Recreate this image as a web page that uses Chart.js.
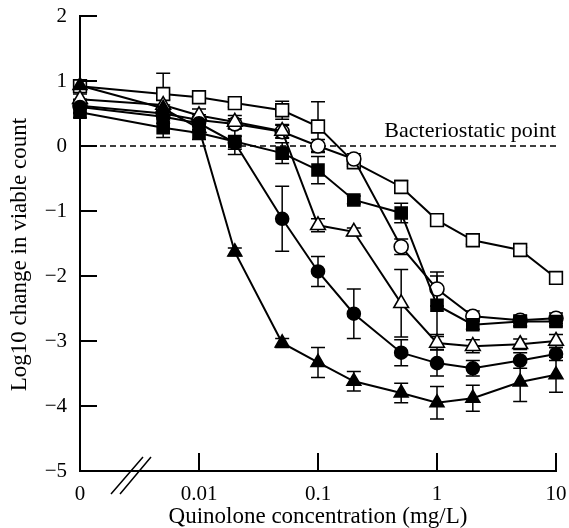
<!DOCTYPE html>
<html>
<head>
<meta charset="utf-8">
<script src="https://cdn.jsdelivr.net/npm/chart.js@4.4.0/dist/chart.umd.min.js"></script>
<style>
  html, body { margin: 0; padding: 0; background: #fff; }
  canvas { display: block; }
</style>
</head>
<body>
<canvas id="killChart" width="569" height="528"></canvas>
<script>
// quinolone concentrations (mg/L); 0 is drawn at the left end of the log axis
const concentrations = [0, 0.005, 0.01, 0.02, 0.05, 0.1, 0.2, 0.5, 1, 2, 5, 10];

// log10 change in viable count, with error bar half-lengths
const openSquare     = [0.92, 0.80, 0.75, 0.66, 0.55, 0.30, -0.25, -0.63, -1.14, -1.45, -1.60, -2.03];
const openSquareErr  = [0.05, 0.32, 0.05, 0.06, 0.14, 0.38, 0.06, 0.10, 0.07, 0.06, 0.04, 0.04];

const openCircle     = [0.62, 0.50, 0.40, 0.34, 0.22, 0.00, -0.20, -1.55, -2.20, -2.62, -2.68, -2.65];
const openCircleErr  = [0.10, 0.10, 0.08, 0.08, 0.10, 0.10, 0.08, 0.12, 0.26, 0.08, 0.08, 0.08];

const filledSquare    = [0.52, 0.28, 0.20, 0.07, -0.11, -0.37, -0.83, -1.03, -2.45, -2.75, -2.70, -2.70];
const filledSquareErr = [0.08, 0.15, 0.10, 0.20, 0.16, 0.21, 0.06, 0.15, 0.45, 0.07, 0.08, 0.07];

const openTriangle    = [0.72, 0.63, 0.47, 0.37, 0.23, -1.22, -1.32, -2.42, -3.03, -3.08, -3.05, -3.00];
const openTriangleErr = [0.08, 0.08, 0.10, 0.10, 0.10, 0.10, 0.06, 0.52, 0.10, 0.10, 0.08, 0.10];

const filledCircle    = [0.60, 0.45, 0.35, 0.05, -1.12, -1.93, -2.58, -3.18, -3.34, -3.42, -3.30, -3.20];
const filledCircleErr = [0.10, 0.10, 0.10, 0.10, 0.50, 0.23, 0.38, 0.20, 0.20, 0.12, 0.12, 0.10];

const filledTriangle    = [0.93, 0.58, 0.27, -1.63, -3.03, -3.33, -3.62, -3.80, -3.95, -3.88, -3.63, -3.52];
const filledTriangleErr = [0.05, 0.05, 0.06, 0.06, 0.07, 0.23, 0.15, 0.15, 0.25, 0.20, 0.30, 0.27];

const xTickValues = [0.001, 0.01, 0.1, 1, 10];
const xTickLabels = ['0', '0.01', '0.1', '1', '10'];
const yTickValues = [-5, -4, -3, -2, -1, 0, 1, 2];
const zeroAt = 0.001;   // where concentration 0 sits on the log axis
const staticLabel = 'Bacteriostatic point';
const yTitle = 'Log10 change in viable count';

const serif = "'Liberation Serif', 'Times New Roman', serif";

function points(values) {
    return values.map((v, i) => ({ x: concentrations[i] === 0 ? zeroAt : concentrations[i], y: v }));
}

function series(values, errors, style, filled, radius) {
    return {
        data: points(values),
        errors: errors,
        borderColor: '#000',
        borderWidth: 2,
        pointStyle: style,
        pointRadius: radius,
        pointBackgroundColor: filled ? '#000' : '#fff',
        pointBorderColor: '#000',
        pointBorderWidth: 1.6,
        tension: 0,
        fill: false,
        clip: false
    };
}

const extras = {
    id: 'extras',
    beforeDatasetsDraw(chart) {
        const { ctx, chartArea: a, scales: { x, y } } = chart;
        ctx.save();
        ctx.strokeStyle = '#000';

        // bacteriostatic line
        const y0 = y.getPixelForValue(0);
        ctx.lineWidth = 1.5;
        ctx.setLineDash([6, 4]);
        ctx.beginPath();
        ctx.moveTo(a.left, y0);
        ctx.lineTo(a.right, y0);
        ctx.stroke();
        ctx.setLineDash([]);

        // error bars
        ctx.lineWidth = 1.5;
        chart.data.datasets.forEach(ds => {
            ds.data.forEach((p, j) => {
                const e = ds.errors[j];
                const px = x.getPixelForValue(p.x);
                const top = y.getPixelForValue(p.y + e);
                const bot = y.getPixelForValue(p.y - e);
                ctx.beginPath();
                ctx.moveTo(px, top); ctx.lineTo(px, bot);
                ctx.moveTo(px - 7, top); ctx.lineTo(px + 7, top);
                ctx.moveTo(px - 7, bot); ctx.lineTo(px + 7, bot);
                ctx.stroke();
            });
        });
        ctx.restore();
    },
    afterDraw(chart) {
        const { ctx, chartArea: a, scales: { x, y } } = chart;
        ctx.save();
        ctx.strokeStyle = '#000';
        ctx.lineWidth = 2;

        // inward ticks
        ctx.beginPath();
        yTickValues.forEach(v => {
            const py = y.getPixelForValue(v);
            ctx.moveTo(a.left, py);
            ctx.lineTo(a.left + 17, py);
        });
        xTickValues.slice(1).forEach(v => {
            const px = x.getPixelForValue(v);
            ctx.moveTo(px, a.bottom);
            ctx.lineTo(px, a.bottom - 18);
        });
        ctx.stroke();

        // axis break
        ctx.lineWidth = 1.5;
        ctx.beginPath();
        ctx.moveTo(a.left + 31, a.bottom + 23); ctx.lineTo(a.left + 63, a.bottom - 14);
        ctx.moveTo(a.left + 40, a.bottom + 23); ctx.lineTo(a.left + 71, a.bottom - 14);
        ctx.stroke();

        ctx.fillStyle = '#000';
        ctx.font = '22px ' + serif;

        // label for the dashed line
        ctx.textAlign = 'right';
        ctx.textBaseline = 'alphabetic';
        ctx.fillText(staticLabel, a.right, y.getPixelForValue(0) - 9);

        // y axis title
        ctx.font = '23px ' + serif;
        ctx.textAlign = 'center';
        ctx.textBaseline = 'middle';
        ctx.translate(20, (a.top + a.bottom) / 2 + 11);
        ctx.rotate(-Math.PI / 2);
        ctx.fillText(yTitle, 0, 0);
        ctx.restore();
    }
};

new Chart(document.getElementById('killChart'), {
    type: 'line',
    data: {
        datasets: [
            series(filledTriangle, filledTriangleErr, 'triangle', true, 8),
            series(filledCircle, filledCircleErr, 'circle', true, 6.5),
            series(openTriangle, openTriangleErr, 'triangle', false, 8.5),
            series(filledSquare, filledSquareErr, 'rect', true, 8.5),
            series(openCircle, openCircleErr, 'circle', false, 7),
            series(openSquare, openSquareErr, 'rect', false, 9)
        ]
    },
    options: {
        responsive: false,
        animation: false,
        layout: { padding: { top: 16, right: 13, left: 0, bottom: 0 } },
        plugins: { legend: { display: false }, tooltip: { enabled: false } },
        scales: {
            x: {
                type: 'logarithmic',
                min: 0.001,
                max: 10,
                afterFit: s => { s.height = 57; s.paddingLeft = 0; s.paddingRight = 0; },
                afterBuildTicks: s => { s.ticks = xTickValues.map(v => ({ value: v })); },
                grid: { display: false, drawTicks: false },
                border: { display: true, color: '#000', width: 2 },
                ticks: {
                    autoSkip: false,
                    maxRotation: 0,
                    padding: 11,
                    color: '#000',
                    font: { family: serif, size: 21 },
                    callback: (v, i) => xTickLabels[i]
                },
                title: {
                    display: true,
                    text: 'Quinolone concentration (mg/L)',
                    color: '#000',
                    font: { family: serif, size: 23, lineHeight: 1 },
                    padding: { top: 0, bottom: 0 }
                }
            },
            y: {
                min: -5,
                max: 2,
                afterFit: s => { s.width = 80; s.paddingTop = 0; s.paddingBottom = 0; },
                afterBuildTicks: s => { s.ticks = yTickValues.map(v => ({ value: v })); },
                grid: { display: false, drawTicks: false },
                border: { display: true, color: '#000', width: 2 },
                ticks: {
                    padding: 13,
                    color: '#000',
                    font: { family: serif, size: 21 },
                    callback: v => (v < 0 ? '\u2212' + Math.abs(v) : String(v))
                }
            }
        }
    },
    plugins: [extras]
});
</script>
</body>
</html>
